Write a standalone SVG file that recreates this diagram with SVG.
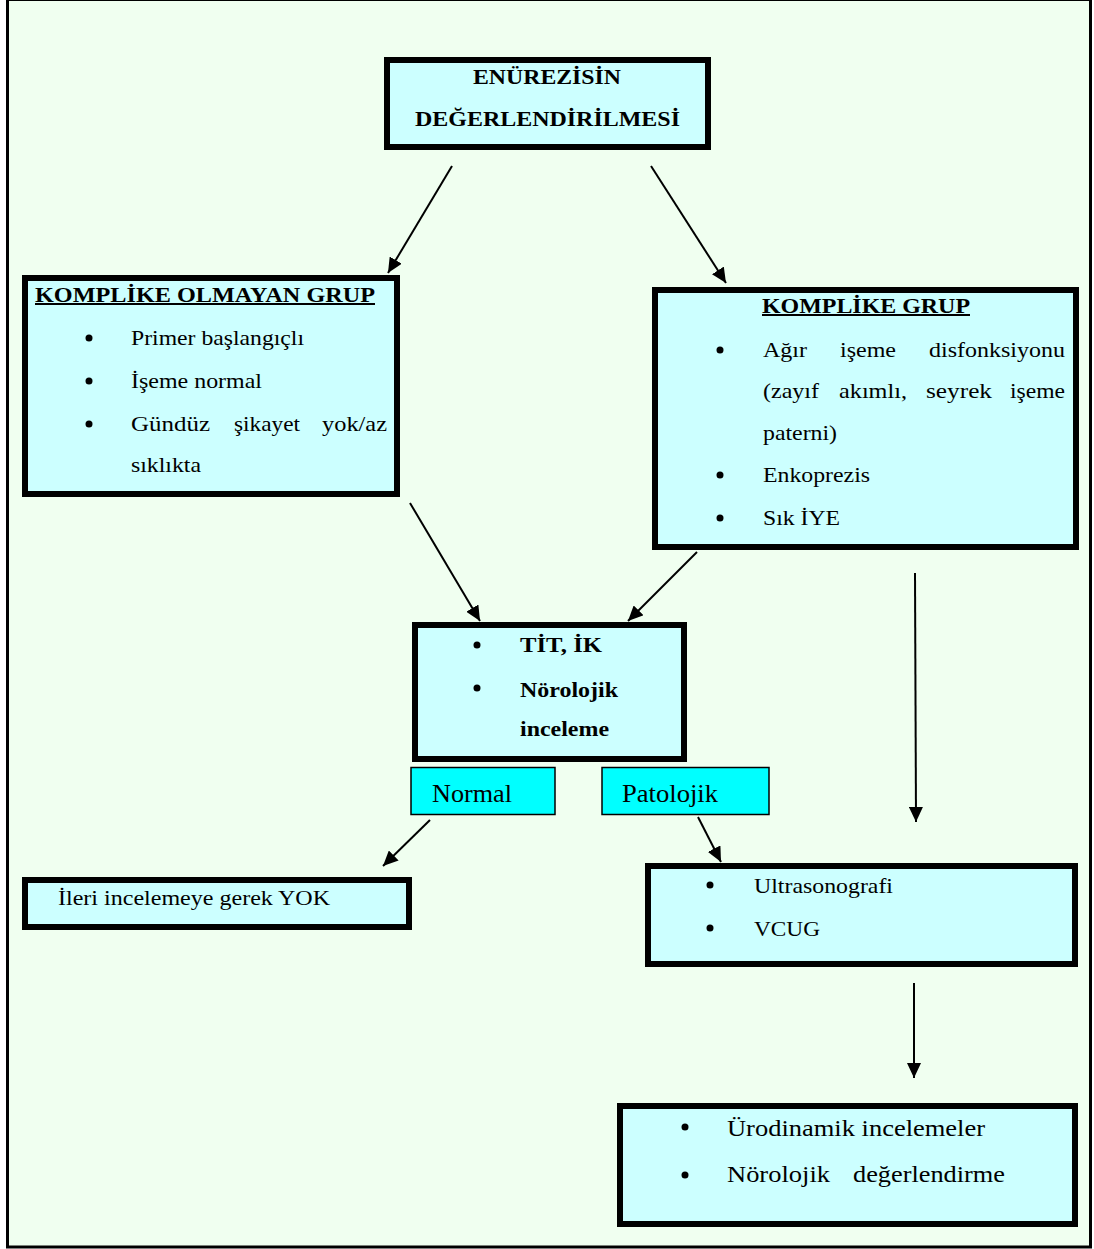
<svg xmlns="http://www.w3.org/2000/svg" width="1094" height="1249" viewBox="0 0 1094 1249">
<defs>
<marker id="ah" markerUnits="userSpaceOnUse" markerWidth="16" markerHeight="14" refX="15" refY="7" orient="auto">
<path d="M0,0 L15,7 L0,14 z" fill="#000"/>
</marker>
<style>
.box{fill:#CCFFFF;stroke:#000;stroke-width:6}
.lbl{fill:#00FFFF;stroke:#000;stroke-width:1.5}
text{font-family:'Liberation Serif','Times New Roman',Times,serif;fill:#000}
.s20{font-size:20px}
.s22{font-size:22px}
.s23{font-size:23px}
.s26{font-size:26px}
.b{font-weight:bold}
.u{text-decoration:underline}
.bul{fill:#000}
.c{stroke:#000;stroke-width:2;fill:none;marker-end:url(#ah)}
</style>
</defs>
<rect x="0" y="0" width="1094" height="1249" fill="#FFFFFF"/>
<rect x="7.5" y="-0.5" width="1083" height="1247.5" fill="#F0FFF0" stroke="#000" stroke-width="3"/>

<g id="connectors">
<line class="c" x1="452" y1="166" x2="388" y2="273"/>
<line class="c" x1="651" y1="166" x2="726" y2="283"/>
<line class="c" x1="410" y1="503" x2="480" y2="621"/>
<line class="c" x1="697" y1="552" x2="628" y2="621"/>
<line class="c" x1="915" y1="573" x2="916" y2="822"/>
<line class="c" x1="430" y1="820" x2="383" y2="866"/>
<line class="c" x1="698" y1="817" x2="721" y2="862"/>
<line class="c" x1="914" y1="983" x2="914" y2="1078"/>
</g>

<g id="n-top">
<rect class="box" x="387" y="60" width="321" height="87"/>
<text class="s20 b" x="473" y="84" textLength="148" lengthAdjust="spacingAndGlyphs">ENÜREZİSİN</text>
<text class="s20 b" x="415" y="126" textLength="265" lengthAdjust="spacingAndGlyphs">DEĞERLENDİRİLMESİ</text>
</g>

<g id="n-uncomplicated">
<rect class="box" x="25" y="278" width="372" height="216"/>
<text class="s20 b u" x="35" y="302" textLength="340" lengthAdjust="spacingAndGlyphs">KOMPLİKE OLMAYAN GRUP</text>
<circle class="bul" cx="89" cy="338" r="3.5"/>
<text class="s22" x="131" y="345" textLength="173" lengthAdjust="spacingAndGlyphs">Primer başlangıçlı</text>
<circle class="bul" cx="89" cy="381" r="3.5"/>
<text class="s22" x="131" y="388" textLength="131" lengthAdjust="spacingAndGlyphs">İşeme normal</text>
<circle class="bul" cx="89" cy="424" r="3.5"/>
<text class="s22" x="131" y="431" textLength="79" lengthAdjust="spacingAndGlyphs">Gündüz</text>
<text class="s22" x="234" y="431" textLength="66" lengthAdjust="spacingAndGlyphs">şikayet</text>
<text class="s22" x="322" y="431" textLength="65" lengthAdjust="spacingAndGlyphs">yok/az</text>
<text class="s22" x="131" y="472" textLength="70" lengthAdjust="spacingAndGlyphs">sıklıkta</text>
</g>

<g id="n-complicated">
<rect class="box" x="655" y="290" width="421" height="257"/>
<text class="s20 b u" x="762" y="313" textLength="208" lengthAdjust="spacingAndGlyphs">KOMPLİKE GRUP</text>
<circle class="bul" cx="720" cy="350" r="3.5"/>
<text class="s22" x="763" y="357" textLength="44" lengthAdjust="spacingAndGlyphs">Ağır</text>
<text class="s22" x="840" y="357" textLength="56" lengthAdjust="spacingAndGlyphs">işeme</text>
<text class="s22" x="929" y="357" textLength="136" lengthAdjust="spacingAndGlyphs">disfonksiyonu</text>
<text class="s22" x="763" y="398" textLength="56" lengthAdjust="spacingAndGlyphs">(zayıf</text>
<text class="s22" x="839" y="398" textLength="68" lengthAdjust="spacingAndGlyphs">akımlı,</text>
<text class="s22" x="926" y="398" textLength="66" lengthAdjust="spacingAndGlyphs">seyrek</text>
<text class="s22" x="1010" y="398" textLength="55" lengthAdjust="spacingAndGlyphs">işeme</text>
<text class="s22" x="763" y="440" textLength="74" lengthAdjust="spacingAndGlyphs">paterni)</text>
<circle class="bul" cx="720" cy="475" r="3.5"/>
<text class="s22" x="763" y="482" textLength="107" lengthAdjust="spacingAndGlyphs">Enkoprezis</text>
<circle class="bul" cx="720" cy="518" r="3.5"/>
<text class="s22" x="763" y="525" textLength="77" lengthAdjust="spacingAndGlyphs">Sık İYE</text>
</g>

<g id="n-tests">
<rect class="box" x="415" y="625" width="269" height="134"/>
<circle class="bul" cx="477" cy="645" r="3.5"/>
<text class="s20 b" x="520" y="652" textLength="82" lengthAdjust="spacingAndGlyphs">TİT, İK</text>
<circle class="bul" cx="477" cy="688" r="3.5"/>
<text class="s20 b" x="520" y="697" textLength="98" lengthAdjust="spacingAndGlyphs">Nörolojik</text>
<text class="s20 b" x="520" y="736" textLength="89" lengthAdjust="spacingAndGlyphs">inceleme</text>
</g>

<g id="n-normal">
<rect class="lbl" x="411" y="767.5" width="144" height="47"/>
<text class="s26" x="432" y="802" textLength="80" lengthAdjust="spacingAndGlyphs">Normal</text>
</g>

<g id="n-pathologic">
<rect class="lbl" x="602" y="767.5" width="167" height="47"/>
<text class="s26" x="622" y="802" textLength="96" lengthAdjust="spacingAndGlyphs">Patolojik</text>
</g>

<g id="n-nofurther">
<rect class="box" x="25" y="880" width="384" height="47"/>
<text class="s22" x="58" y="905" textLength="272" lengthAdjust="spacingAndGlyphs">İleri incelemeye gerek YOK</text>
</g>

<g id="n-imaging">
<rect class="box" x="648" y="866" width="427" height="98"/>
<circle class="bul" cx="710" cy="885" r="3.5"/>
<text class="s22" x="754" y="893" textLength="139" lengthAdjust="spacingAndGlyphs">Ultrasonografi</text>
<circle class="bul" cx="710" cy="928" r="3.5"/>
<text class="s22" x="754" y="936" textLength="66" lengthAdjust="spacingAndGlyphs">VCUG</text>
</g>

<g id="n-urodynamic">
<rect class="box" x="620" y="1106" width="455" height="118"/>
<circle class="bul" cx="685" cy="1127" r="3.5"/>
<text class="s23" x="727" y="1136" textLength="258" lengthAdjust="spacingAndGlyphs">Ürodinamik incelemeler</text>
<circle class="bul" cx="685" cy="1175" r="3.5"/>
<text class="s23" x="727" y="1182" textLength="103" lengthAdjust="spacingAndGlyphs">Nörolojik</text>
<text class="s23" x="853" y="1182" textLength="152" lengthAdjust="spacingAndGlyphs">değerlendirme</text>
</g>
</svg>
